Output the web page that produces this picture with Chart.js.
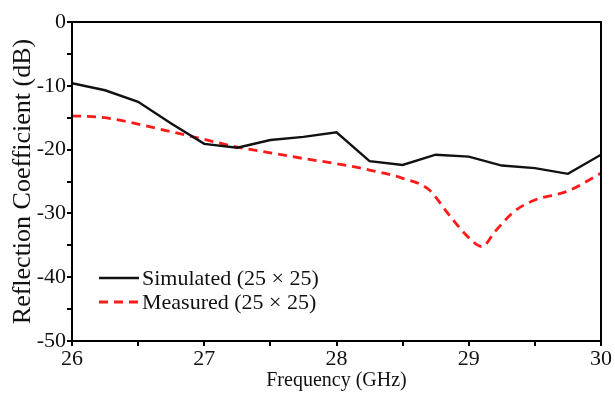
<!DOCTYPE html>
<html>
<head>
<meta charset="utf-8">
<script src="https://cdn.jsdelivr.net/npm/chart.js@4/dist/chart.umd.min.js"></script>
<style>
  html, body { margin: 0; padding: 0; background: #fff; }
  #wrap { width: 615px; height: 393px; }
</style>
</head>
<body>
<div id="wrap"><canvas id="out"></canvas></div>
<script>
// Frequency (GHz) / reflection coefficient (dB)
const simFreq = [26, 26.25, 26.5, 26.75, 27, 27.25, 27.5, 27.75, 28, 28.25, 28.5, 28.75, 29, 29.25, 29.5, 29.75, 30];
const simDb = [-9.6, -10.7, -12.5, -15.9, -19.1, -19.7, -18.5, -18.0, -17.3, -21.8, -22.4, -20.8, -21.1, -22.5, -22.9, -23.8, -20.8];

const measFreq = [26, 26.25, 26.5, 26.75, 27, 27.25, 27.5, 27.75, 28, 28.25, 28.5, 28.7, 28.85, 29, 29.1, 29.2, 29.35, 29.5, 29.75, 30];
const measDb = [-14.7, -15.0, -16.0, -17.2, -18.4, -19.6, -20.5, -21.4, -22.2, -23.2, -24.5, -26.3, -30.2, -33.8, -35.2, -32.8, -29.6, -27.9, -26.5, -23.7];

const serif = "'Liberation Serif', 'DejaVu Serif', serif";

// frame round the plot + legend inside the plot area
const framePlugin = {
  id: "frame",
  afterDraw(chart) {
    const { ctx, chartArea: a } = chart;
    ctx.save();
    ctx.strokeStyle = "#000";
    ctx.lineWidth = 2;
    ctx.strokeRect(a.left, a.top, a.right - a.left, a.bottom - a.top);

    // legend
    ctx.font = "22px " + serif;
    ctx.textBaseline = "middle";
    ctx.fillStyle = "#111";
    chart.data.datasets.forEach((ds, i) => {
      const y = a.top + 256 + i * 24;
      const x0 = a.left + 27;
      ctx.beginPath();
      ctx.strokeStyle = ds.borderColor;
      ctx.lineWidth = ds.borderWidth;
      ctx.setLineDash(ds.borderDash || []);
      ctx.moveTo(x0, y);
      ctx.lineTo(x0 + 40, y);
      ctx.stroke();
      ctx.setLineDash([]);
      ctx.fillText(ds.label, x0 + 43, y + 1);
    });
    ctx.restore();
  }
};

const chartConfig = {
  type: "line",
  data: {
    datasets: [
      {
        label: "Simulated (25 × 25)",
        data: simFreq.map((f, i) => ({ x: f, y: simDb[i] })),
        borderColor: "#111",
        borderWidth: 2.4,
        pointRadius: 0,
        tension: 0
      },
      {
        label: "Measured (25 × 25)",
        data: measFreq.map((f, i) => ({ x: f, y: measDb[i] })),
        borderColor: "#ff1a1a",
        borderWidth: 2.8,
        borderDash: [9, 6],
        pointRadius: 0,
        tension: 0.3,
        cubicInterpolationMode: "monotone"
      }
    ]
  },
  options: {
    responsive: true,
    maintainAspectRatio: false,
    animation: false,
    layout: { padding: { top: 22, right: 14, left: 8, bottom: 0 } },
    plugins: { legend: { display: false }, tooltip: { enabled: false } },
    scales: {
      x: {
        type: "linear",
        min: 26,
        max: 30,
        afterFit(s) { s.height = 52; },
        ticks: {
          stepSize: 0.5,
          autoSkip: false,
          maxRotation: 0,
          color: "#111",
          padding: 0,
          font: { family: serif, size: 22 },
          callback: v => (Number.isInteger(v) ? String(v) : "")
        },
        grid: { drawOnChartArea: false, drawTicks: true, tickLength: 5, color: "#000", lineWidth: 2 },
        border: { display: true, color: "#000", width: 2 },
        title: {
          display: true,
          text: "Frequency (GHz)",
          color: "#111",
          font: { family: serif, size: 20 },
          padding: { top: 0, bottom: 0 }
        }
      },
      y: {
        min: -50,
        max: 0,
        afterFit(s) { s.width = 64; },
        ticks: {
          stepSize: 5,
          autoSkip: false,
          color: "#111",
          padding: 1,
          font: { family: serif, size: 22 },
          callback: v => (v % 10 === 0 ? String(v) : "")
        },
        grid: { drawOnChartArea: false, drawTicks: true, tickLength: 5, color: "#000", lineWidth: 2 },
        border: { display: true, color: "#000", width: 2 },
        title: {
          display: true,
          text: "Reflection Coefficient (dB)",
          color: "#111",
          font: { family: serif, size: 26 },
          padding: { top: 0, bottom: 0 }
        }
      }
    }
  },
  plugins: [framePlugin]
};

window.chart = new Chart(document.getElementById("out").getContext("2d"), chartConfig);
</script>
</body>
</html>
